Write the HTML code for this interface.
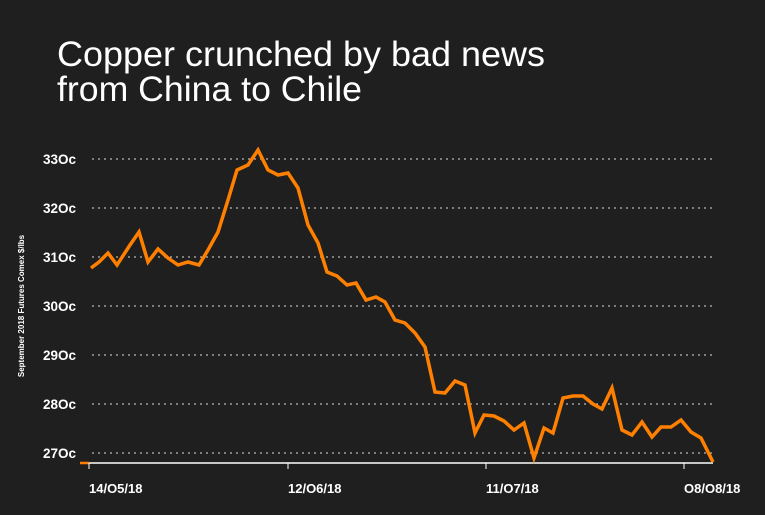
<!DOCTYPE html>
<html><head><meta charset="utf-8"><style>
html,body{margin:0;padding:0;background:#1f1f1f;width:765px;height:515px;overflow:hidden}
svg{display:block}
text{font-family:"Liberation Sans",sans-serif;fill:#fff}
</style></head><body>
<svg width="765" height="515" viewBox="0 0 765 515">
<rect width="765" height="515" fill="#1f1f1f"/>
<text x="57" y="66" font-size="35" textLength="488" lengthAdjust="spacingAndGlyphs">Copper crunched by bad news</text>
<text x="57" y="101" font-size="35" textLength="305" lengthAdjust="spacingAndGlyphs">from China to Chile</text>
<g stroke="#ddd" stroke-width="1" stroke-dasharray="2,4">
<line x1="92" x2="713" y1="159" y2="159"/><line x1="92" x2="713" y1="208" y2="208"/>
<line x1="92" x2="713" y1="257" y2="257"/><line x1="92" x2="713" y1="306" y2="306"/>
<line x1="92" x2="713" y1="355" y2="355"/><line x1="92" x2="713" y1="404" y2="404"/>
<line x1="92" x2="713" y1="453" y2="453"/>
</g>
<g font-size="13.5" font-weight="bold" text-anchor="end">
<text x="76" y="164">33Oc</text><text x="76" y="213">32Oc</text><text x="76" y="262">31Oc</text>
<text x="76" y="311">30Oc</text><text x="76" y="360">29Oc</text><text x="76" y="409">28Oc</text>
<text x="76" y="458">27Oc</text>
</g>
<text transform="translate(24,306) rotate(-90)" font-size="8" font-weight="bold" text-anchor="middle">September 2018 Futures Comex $/lbs</text>
<line x1="89" x2="713" y1="463" y2="463" stroke="#fff" stroke-width="1.5"/>
<line x1="80" x2="89" y1="463" y2="463" stroke="#ff8000" stroke-width="2.5"/>
<g stroke="#fff" stroke-width="1">
<line x1="89" x2="89" y1="463" y2="469"/><line x1="288" x2="288" y1="463" y2="469"/>
<line x1="486" x2="486" y1="463" y2="469"/><line x1="684" x2="684" y1="463" y2="469"/>
</g>
<g font-size="13" font-weight="bold">
<text x="89" y="493">14/O5/18</text><text x="288" y="493">12/O6/18</text>
<text x="486" y="493">11/O7/18</text><text x="684" y="493">O8/O8/18</text>
</g>
<polyline fill="none" stroke="#ff8000" stroke-width="3.5" stroke-linejoin="miter" points="91,268 99,262 108,253 117,265 130,245 139,232 148,262 158,249 168,258 178,265 188,262 199,265 208,250 218,232 228,200 237,170 248,165 258,150 268,170 278,175 288,173 298,188 308,225 318,243 327,272 337,276 347,285 356,283 366,300 376,297 385,302 395,320 405,323 415,333 425,347 435,392 445,393 455,381 465,385 475,433 484,415 494,416 504,421 514,430 524,423 534,458 544,428 553,433 563,398 573,396 583,396 593,404 602,409 612,388 622,430 632,435 642,422 652,437 661,427 671,427 681,420 691,432 701,438 713,462"/>
</svg>
</body></html>
